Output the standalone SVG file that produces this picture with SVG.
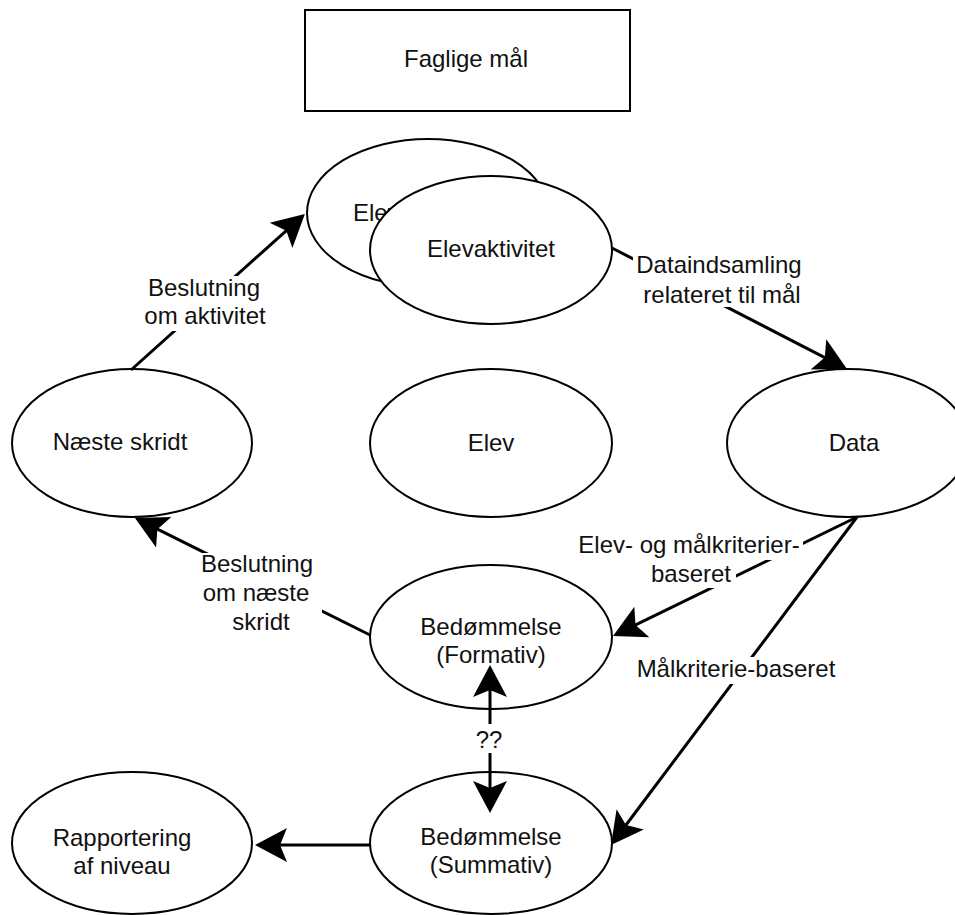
<svg xmlns="http://www.w3.org/2000/svg" width="955" height="915" viewBox="0 0 955 915">
<style>
  text { font-family: "Liberation Sans", Arial, sans-serif; font-size: 24px; fill: #111; text-anchor: middle; }
  .node { fill: #fff; stroke: #000; stroke-width: 2; }
  .edge { stroke: #000; stroke-width: 3; fill: none; marker-end: url(#ah); }
  .lbl { fill: #fff; stroke: none; }
</style>
<defs>
  <marker id="ah" markerUnits="userSpaceOnUse" markerWidth="34" markerHeight="36" viewBox="0 0 34 36" refX="12" refY="18" orient="auto-start-reverse">
    <path d="M32,18 L0,1 L7,18 L0,35 Z" fill="#000"/>
  </marker>
</defs>
<rect width="955" height="915" fill="#fff"/>

<g id="faglige-maal">
  <rect class="node" x="305" y="10" width="325" height="101"/>
  <text x="466" y="67">Faglige mål</text>
</g>
<g id="elevaktivitet-bag">
  <ellipse class="node" cx="428" cy="213" rx="121" ry="74"/>
  <text x="417" y="221">Elevaktivitet</text>
</g>
<g id="elevaktivitet">
  <ellipse class="node" cx="491" cy="250" rx="121" ry="74"/>
  <text x="491" y="257">Elevaktivitet</text>
</g>
<g id="naeste-skridt">
  <ellipse class="node" cx="132" cy="443" rx="120" ry="74"/>
  <text x="120" y="450">Næste skridt</text>
</g>
<g id="elev">
  <ellipse class="node" cx="491" cy="443" rx="121" ry="74"/>
  <text x="491" y="451">Elev</text>
</g>
<g id="data">
  <ellipse class="node" cx="848" cy="443" rx="121" ry="74"/>
  <text x="854" y="451">Data</text>
</g>
<g id="formativ">
  <ellipse class="node" cx="491" cy="637" rx="121" ry="72"/>
  <text x="491" y="635">Bedømmelse</text>
  <text x="491" y="663">(Formativ)</text>
</g>
<g id="summativ">
  <ellipse class="node" cx="491" cy="843" rx="121" ry="71"/>
  <text x="491" y="845">Bedømmelse</text>
  <text x="491" y="873">(Summativ)</text>
</g>
<g id="rapportering">
  <ellipse class="node" cx="132" cy="843" rx="120" ry="71"/>
  <text x="122" y="846">Rapportering</text>
  <text x="122" y="874">af niveau</text>
</g>

<g id="connectors">
  <line class="edge" x1="131" y1="370" x2="290" y2="227.3"/>
  <line class="edge" x1="612" y1="248" x2="829.2" y2="359.8"/>
  <line class="edge" x1="857" y1="517" x2="631" y2="627.2"/>
  <line class="edge" x1="857" y1="517" x2="623" y2="829"/>
  <line class="edge" x1="370" y1="635" x2="152.9" y2="526.9"/>
  <line class="edge" x1="490" y1="685" x2="490" y2="793" style="marker-start: url(#ah)"/>
  <line class="edge" x1="370" y1="845" x2="275" y2="845"/>

  <g id="lbl-aktivitet">
    <rect class="lbl" x="142" y="276" width="126" height="55"/>
    <text x="204" y="296">Beslutning</text>
    <text x="205" y="324">om aktivitet</text>
  </g>
  <g id="lbl-dataindsamling">
    <rect class="lbl" x="633" y="252" width="172" height="55"/>
    <text x="719" y="273">Dataindsamling</text>
    <text x="722" y="303">relateret til mål</text>
  </g>
  <g id="lbl-elev-maal">
    <rect class="lbl" x="575" y="532" width="228" height="28"/>
    <rect class="lbl" x="646" y="560" width="90" height="28"/>
    <text x="689" y="553">Elev- og målkriterier-</text>
    <text x="691" y="582">baseret</text>
  </g>
  <g id="lbl-maalkriterie">
    <rect class="lbl" x="634" y="657" width="205" height="27"/>
    <text x="736" y="677">Målkriterie-baseret</text>
  </g>
  <g id="lbl-naeste">
    <rect class="lbl" x="198" y="553" width="124" height="84"/>
    <text x="257" y="572">Beslutning</text>
    <text x="256" y="601">om næste</text>
    <text x="261" y="630">skridt</text>
  </g>
  <g id="lbl-qq">
    <rect class="lbl" x="476" y="724" width="28" height="29"/>
    <text x="489" y="748">??</text>
  </g>
</g>
</svg>
